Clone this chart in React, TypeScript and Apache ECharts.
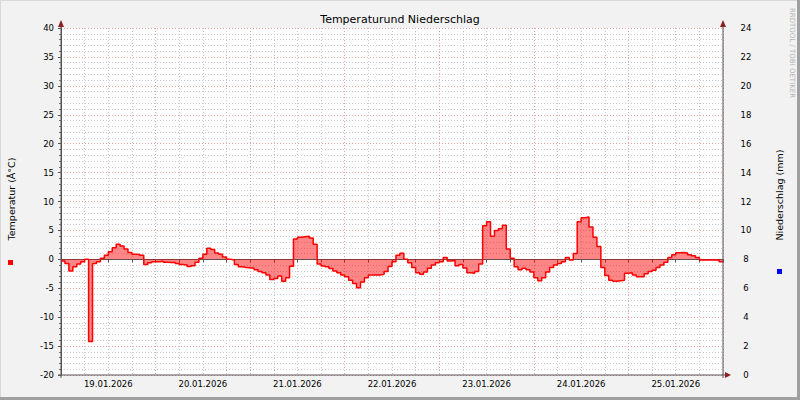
import React, { useEffect, useRef } from 'react';
import * as echarts from 'echarts';

// Tick labels of the time axis (one per day, centred at noon)
const dayLabels = ['19.01.2026', '20.01.2026', '21.01.2026', '22.01.2026', '23.01.2026', '24.01.2026', '25.01.2026'];

// Hours since 19.01.2026 00:00 between two temperature readings
const tempStepHours = 1;

// Temperature (°C), hourly, 19.01.2026 00:00 .. 26.01.2026 00:00
const temperature = [
  // 19.01
  -0.3, -0.7, -2.0, -1.3, -0.8, -0.4, 0.0, -14.2, -0.7, -0.4, 0.2, 0.7,
  1.3, 2.0, 2.6, 2.3, 1.8, 1.2, 0.9, 0.85, 0.7, -0.9, -0.6, -0.4,
  // 20.01
  -0.4, -0.35, -0.5, -0.55, -0.55, -0.7, -0.9, -1.0, -1.25, -1.1, -0.5, 0.2,
  0.9, 1.9, 1.7, 1.1, 0.9, 0.4, 0.0, -0.1, -0.9, -1.3, -1.4, -1.45,
  // 21.01
  -1.55, -1.8, -2.1, -2.3, -2.7, -3.5, -3.3, -2.9, -3.8, -3.2, -1.2, 3.5,
  3.8, 3.9, 4.0, 3.7, 2.6, -0.8, -1.15, -1.3, -1.6, -2.0, -2.3, -2.7,
  // 22.01
  -3.0, -3.6, -4.2, -4.9, -3.9, -3.2, -2.7, -2.7, -2.7, -2.6, -2.1, -1.25,
  -0.4, 0.7, 1.05, 0.0, -0.6, -1.4, -2.3, -2.6, -2.2, -1.55, -1.0, -0.6,
  // 23.01
  -0.4, 0.3, -0.3, -0.2, -1.1, -0.9, -1.5, -2.3, -2.4, -2.1, -0.8, 5.8,
  6.5, 4.0, 5.0, 5.3, 5.9, 1.8, 0.2, -1.3, -1.8, -1.55, -1.8, -2.2,
  // 24.01
  -3.2, -3.7, -3.2, -2.2, -1.4, -1.0, -0.7, -0.4, 0.3, -0.1, 1.0, 6.5,
  7.2, 7.3, 5.6, 3.8, 2.2, -1.4, -2.8, -3.6, -3.8, -3.7, -3.6, -2.4,
  // 25.01
  -2.3, -2.7, -3.0, -3.0, -2.5, -2.1, -1.9, -1.4, -1.0, -0.5, 0.3, 0.8,
  1.15, 1.2, 1.1, 0.8, 0.6, 0.3, -0.1, -0.1, -0.1, -0.1, -0.1, -0.4,
  // 26.01 00:00
  -0.4,
];

// Precipitation (mm), every 6 hours — nothing fell in this week
const precipStepHours = 6;
const precipitation = [
  0, 0, 0, 0, 0, 0, 0, 0, 0, 0, 0, 0, 0, 0,
  0, 0, 0, 0, 0, 0, 0, 0, 0, 0, 0, 0, 0, 0, 0,
];

const FONT = 'DejaVu Sans';

export default function App() {
  const ref = useRef<HTMLDivElement>(null);

  useEffect(() => {
    const chart = echarts.init(ref.current as HTMLDivElement, null, { renderer: 'svg' });
    const totalHours = (temperature.length - 1) * tempStepHours;
    const dotted = [1, 2];
    const option: any = {
      animation: false,
      backgroundColor: '#f2f2f2',
      title: {
        text: 'Temperaturund Niederschlag',
        left: 'center',
        top: 14,
        padding: 0,
        textStyle: { fontFamily: FONT, fontSize: 11, fontWeight: 'normal', color: '#000' },
      },
      grid: {
        left: 61,
        right: 77,
        top: 28,
        bottom: 25,
        show: true,
        backgroundColor: '#ffffff',
        borderWidth: 0,
      },
      xAxis: [
        {
          type: 'value',
          min: 0,
          max: totalHours,
          interval: 6,
          position: 'bottom',
          axisLine: { show: true, lineStyle: { color: '#555', width: 1 } },
          axisTick: { show: true, length: 3, lineStyle: { color: '#555' } },
          axisLabel: {
            margin: 4,
            fontFamily: FONT,
            fontSize: 8.5,
            color: '#000',
            formatter: (v: number) => {
              const k = (v - 12) / 24;
              return Number.isInteger(k) && k >= 0 && k < dayLabels.length ? dayLabels[k] : '';
            },
          },
          splitLine: { show: true, lineStyle: { color: '#c8c8c8', type: dotted, width: 1 } },
        },
        {
          type: 'value',
          min: 0,
          max: totalHours,
          interval: 24,
          position: 'bottom',
          axisLine: { show: false },
          axisTick: { show: false },
          axisLabel: { show: false },
          splitLine: { show: true, lineStyle: { color: '#e8a0a0', type: dotted, width: 1 } },
        },
      ],
      yAxis: [
        {
          type: 'value',
          min: -20,
          max: 40,
          interval: 5,
          position: 'left',
          axisLine: { show: true, lineStyle: { color: '#555', width: 1 } },
          axisTick: { show: true, length: 3, lineStyle: { color: '#555' } },
          minorTick: { show: true, splitNumber: 5, length: 2, lineStyle: { color: '#777' } },
          axisLabel: { margin: 7, fontFamily: FONT, fontSize: 8.5, color: '#000' },
          splitLine: { show: true, lineStyle: { color: '#e8a0a0', type: dotted, width: 1 } },
          minorSplitLine: { show: true, lineStyle: { color: '#c8c8c8', type: dotted, width: 1 } },
        },
        {
          type: 'value',
          min: 0,
          max: 24,
          interval: 2,
          position: 'right',
          axisLine: { show: true, lineStyle: { color: '#555', width: 1 } },
          axisTick: { show: true, length: 3, inside: true, lineStyle: { color: '#555' } },
          axisLabel: { margin: 23, align: 'center', fontFamily: FONT, fontSize: 8.5, color: '#000' },
          splitLine: { show: false },
        },
      ],
      series: [
        {
          name: 'Temperatur',
          type: 'line',
          xAxisIndex: 0,
          yAxisIndex: 0,
          step: 'end',
          symbol: 'none',
          data: temperature.map((v, i) => [i * tempStepHours, v]),
          lineStyle: { color: '#ff0000', width: 1.5 },
          areaStyle: { color: 'rgba(255,0,0,0.68)', origin: 'auto' },
          z: 5,
        },
        {
          name: 'Niederschlag',
          type: 'bar',
          xAxisIndex: 0,
          yAxisIndex: 1,
          barWidth: 2,
          itemStyle: { color: '#0000ff' },
          data: precipitation.map((v, i) => [i * precipStepHours, v]),
          z: 4,
        },
      ],
      graphic: [
        // frame shading
        { type: 'rect', shape: { x: 0, y: 0, width: 800, height: 1 }, style: { fill: '#d8d8d8' }, z: 100 },
        { type: 'rect', shape: { x: 0, y: 0, width: 1, height: 400 }, style: { fill: '#d8d8d8' }, z: 100 },
        { type: 'rect', shape: { x: 0, y: 397, width: 800, height: 3 }, style: { fill: '#a0a0a0' }, z: 100 },
        { type: 'rect', shape: { x: 797, y: 0, width: 3, height: 400 }, style: { fill: '#a0a0a0' }, z: 100 },
        // axis extensions and arrows
        { type: 'line', shape: { x1: 61, y1: 22, x2: 61, y2: 378 }, style: { stroke: '#555', lineWidth: 1 }, z: 50 },
        { type: 'line', shape: { x1: 723, y1: 22, x2: 723, y2: 378 }, style: { stroke: '#555', lineWidth: 1 }, z: 50 },
        { type: 'line', shape: { x1: 58, y1: 375, x2: 727, y2: 375 }, style: { stroke: '#555', lineWidth: 1 }, z: 50 },
        { type: 'polygon', shape: { points: [[58, 27], [64, 27], [61, 20]] }, style: { fill: '#8c2020' }, z: 60 },
        { type: 'polygon', shape: { points: [[720, 27], [726, 27], [723, 20]] }, style: { fill: '#8c2020' }, z: 60 },
        { type: 'polygon', shape: { points: [[725, 372], [725, 378], [731, 375]] }, style: { fill: '#8c2020' }, z: 60 },
        // axis titles
        {
          type: 'text', x: 11, y: 199, rotation: Math.PI / 2, z: 60,
          style: { text: 'Temperatur (Â°C)', fontFamily: FONT, fontSize: 9.5, fill: '#000', align: 'center', verticalAlign: 'middle' },
        },
        {
          type: 'text', x: 779, y: 195, rotation: Math.PI / 2, z: 60,
          style: { text: 'Niederschlag (mm)', fontFamily: FONT, fontSize: 9.5, fill: '#000', align: 'center', verticalAlign: 'middle' },
        },
        // legend markers
        { type: 'rect', shape: { x: 8, y: 260, width: 5, height: 5 }, style: { fill: '#ff0000' }, z: 60 },
        { type: 'rect', shape: { x: 777, y: 269, width: 5, height: 5 }, style: { fill: '#0000ff' }, z: 60 },
        // watermark
        {
          type: 'text', x: 792, y: 53, rotation: -Math.PI / 2, z: 60,
          style: { text: 'RRDTOOL / TOBI OETIKER', fontFamily: FONT, fontSize: 7, fill: '#b4b4b4', align: 'center', verticalAlign: 'middle' },
        },
      ],
    };
    chart.setOption(option);
    return () => chart.dispose();
  }, []);

  return <div ref={ref} style={{ position: 'fixed', left: 0, top: 0, width: 800, height: 400 }} />;
}
